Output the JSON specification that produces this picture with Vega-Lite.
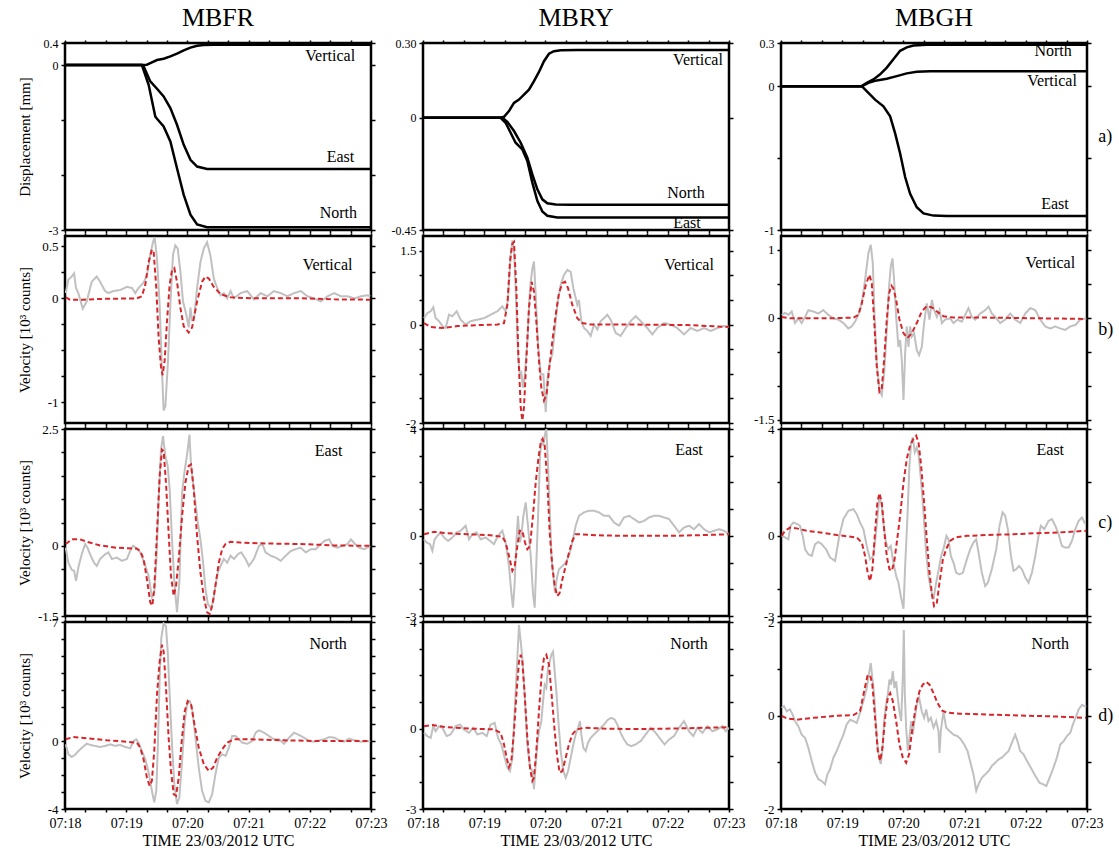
{
"$schema":"https://vega.github.io/schema/vega-lite/v6.json",
"padding":{"top":3,"left":15,"right":5,"bottom":5},
"config":{
 "font":"Liberation Serif",
 "view":{"stroke":"black","strokeWidth":2.5},
 "axis":{"domain":false,"grid":false,"tickColor":"black","tickWidth":1.5,"labelFont":"Liberation Serif","labelFontSize":13,"labelColor":"black","labelPadding":3,"labelOverlap":false,"labelFlush":false,"titleFont":"Liberation Serif","titleFontSize":15,"titleFontWeight":"normal","titleColor":"black"},
 "style":{"guide-label":{"font":"Liberation Serif"},"guide-title":{"font":"Liberation Serif"}},
 "title":{"font":"Liberation Serif","fontSize":26,"fontWeight":"normal","color":"black","frame":"group","anchor":"middle","offset":6},
 "text":{"font":"Liberation Serif","fontSize":16,"color":"black"}
},
"datasets":{
"d_fr":[
{"k":"V","t":0,"v":0},{"k":"V","t":75.4,"v":0},{"k":"V","t":80.3,"v":0.005},{"k":"V","t":85.2,"v":0.048},{"k":"V","t":90.2,"v":0.09},{"k":"V","t":96.7,"v":0.115},{"k":"V","t":103.3,"v":0.157},{"k":"V","t":109.8,"v":0.206},{"k":"V","t":116.4,"v":0.266},{"k":"V","t":123,"v":0.315},{"k":"V","t":129.5,"v":0.351},{"k":"V","t":136,"v":0.364},{"k":"V","t":146,"v":0.37},{"k":"V","t":300,"v":0.37},
{"k":"E","t":0,"v":0},{"k":"E","t":75.4,"v":0},{"k":"E","t":77,"v":-0.02},{"k":"E","t":83.6,"v":-0.298},{"k":"E","t":90.2,"v":-0.432},{"k":"E","t":96.7,"v":-0.571},{"k":"E","t":103.3,"v":-0.784},{"k":"E","t":109.8,"v":-1.087},{"k":"E","t":116.4,"v":-1.452},{"k":"E","t":123,"v":-1.725},{"k":"E","t":129.5,"v":-1.846},{"k":"E","t":139.3,"v":-1.889},{"k":"E","t":300,"v":-1.889},
{"k":"N","t":0,"v":0},{"k":"N","t":75.4,"v":0},{"k":"N","t":82,"v":-0.359},{"k":"N","t":88.5,"v":-0.936},{"k":"N","t":90.2,"v":-0.978},{"k":"N","t":96.7,"v":-1.118},{"k":"N","t":103.3,"v":-1.391},{"k":"N","t":109.8,"v":-1.877},{"k":"N","t":116.4,"v":-2.362},{"k":"N","t":123,"v":-2.72},{"k":"N","t":129.5,"v":-2.9},{"k":"N","t":139.3,"v":-2.95},{"k":"N","t":300,"v":-2.95}
],
"d_ry":[
{"k":"V","t":0,"v":0},{"k":"V","t":76.1,"v":0},{"k":"V","t":79.4,"v":0.004},{"k":"V","t":84.3,"v":0.027},{"k":"V","t":89.2,"v":0.06},{"k":"V","t":94.1,"v":0.073},{"k":"V","t":99,"v":0.093},{"k":"V","t":103.9,"v":0.113},{"k":"V","t":108.8,"v":0.147},{"k":"V","t":113.7,"v":0.184},{"k":"V","t":118.6,"v":0.227},{"k":"V","t":123.5,"v":0.257},{"k":"V","t":128.4,"v":0.267},{"k":"V","t":135,"v":0.271},{"k":"V","t":151.3,"v":0.272},{"k":"V","t":300,"v":0.272},
{"k":"N","t":0,"v":0},{"k":"N","t":77.8,"v":0},{"k":"N","t":82.7,"v":-0.016},{"k":"N","t":89.2,"v":-0.053},{"k":"N","t":95.8,"v":-0.1},{"k":"N","t":102.3,"v":-0.16},{"k":"N","t":107.2,"v":-0.227},{"k":"N","t":112.1,"v":-0.287},{"k":"N","t":117,"v":-0.327},{"k":"N","t":121.9,"v":-0.343},{"k":"N","t":130.1,"v":-0.348},{"k":"N","t":144.8,"v":-0.349},{"k":"N","t":300,"v":-0.349},
{"k":"E","t":0,"v":0},{"k":"E","t":76.1,"v":0},{"k":"E","t":81,"v":-0.02},{"k":"E","t":85.9,"v":-0.06},{"k":"E","t":90.8,"v":-0.1},{"k":"E","t":97.4,"v":-0.127},{"k":"E","t":102.3,"v":-0.173},{"k":"E","t":107.2,"v":-0.26},{"k":"E","t":112.1,"v":-0.333},{"k":"E","t":117,"v":-0.376},{"k":"E","t":121.9,"v":-0.393},{"k":"E","t":131.7,"v":-0.4},{"k":"E","t":300,"v":-0.4}
],
"d_gh":[
{"k":"N","t":0,"v":0},{"k":"N","t":79.2,"v":0},{"k":"N","t":84.1,"v":0.023},{"k":"N","t":90.6,"v":0.047},{"k":"N","t":97.2,"v":0.082},{"k":"N","t":103.7,"v":0.129},{"k":"N","t":110.2,"v":0.187},{"k":"N","t":116.8,"v":0.246},{"k":"N","t":123.3,"v":0.27},{"k":"N","t":129.9,"v":0.283},{"k":"N","t":143,"v":0.288},{"k":"N","t":300,"v":0.288},
{"k":"V","t":0,"v":0},{"k":"V","t":79.2,"v":0},{"k":"V","t":85.7,"v":0.023},{"k":"V","t":93.9,"v":0.04},{"k":"V","t":103.7,"v":0.051},{"k":"V","t":113.5,"v":0.07},{"k":"V","t":123.3,"v":0.089},{"k":"V","t":133.1,"v":0.1},{"k":"V","t":146.2,"v":0.103},{"k":"V","t":300,"v":0.103},
{"k":"E","t":0,"v":0},{"k":"E","t":79.2,"v":0},{"k":"E","t":85.7,"v":-0.047},{"k":"E","t":92.2,"v":-0.094},{"k":"E","t":100.4,"v":-0.14},{"k":"E","t":107,"v":-0.21},{"k":"E","t":111.9,"v":-0.328},{"k":"E","t":116.8,"v":-0.468},{"k":"E","t":121.7,"v":-0.632},{"k":"E","t":126.6,"v":-0.749},{"k":"E","t":133.1,"v":-0.842},{"k":"E","t":139.7,"v":-0.885},{"k":"E","t":149.5,"v":-0.9},{"k":"E","t":162.6,"v":-0.903},{"k":"E","t":300,"v":-0.903}
],
"vz_fr":[
{"k":"o","t":0.7,"v":0.05},{"k":"o","t":3.3,"v":0.18},{"k":"o","t":6.6,"v":0.21},{"k":"o","t":8.9,"v":0.24},{"k":"o","t":10.8,"v":0.1},{"k":"o","t":13.1,"v":0.05},{"k":"o","t":17.4,"v":-0.1},{"k":"o","t":21.3,"v":-0.03},{"k":"o","t":26.2,"v":0.16},{"k":"o","t":31.1,"v":0.21},{"k":"o","t":34.4,"v":0.16},{"k":"o","t":39.3,"v":0.07},{"k":"o","t":42.6,"v":0.05},{"k":"o","t":47.5,"v":0.07},{"k":"o","t":54.1,"v":0.08},{"k":"o","t":60.7,"v":0.11},{"k":"o","t":65.6,"v":0.1},{"k":"o","t":68.9,"v":0.05},{"k":"o","t":72.1,"v":0.1},{"k":"o","t":77,"v":0.15},{"k":"o","t":80.3,"v":0.22},{"k":"o","t":83.6,"v":0.42},{"k":"o","t":86.2,"v":0.54},{"k":"o","t":87.9,"v":0.59},{"k":"o","t":90.2,"v":0.38},{"k":"o","t":92.8,"v":-0.06},{"k":"o","t":95.1,"v":-0.7},{"k":"o","t":96.7,"v":-1.08},{"k":"o","t":98.4,"v":-1.04},{"k":"o","t":101,"v":-0.6},{"k":"o","t":103.3,"v":-0.06},{"k":"o","t":105.9,"v":0.42},{"k":"o","t":108.2,"v":0.51},{"k":"o","t":110.5,"v":0.48},{"k":"o","t":113.1,"v":0.26},{"k":"o","t":115.7,"v":-0.03},{"k":"o","t":119,"v":-0.16},{"k":"o","t":121.3,"v":-0.28},{"k":"o","t":123,"v":-0.09},{"k":"o","t":124.6,"v":-0.22},{"k":"o","t":126.9,"v":-0.16},{"k":"o","t":129.5,"v":0.1},{"k":"o","t":132.8,"v":0.35},{"k":"o","t":136.1,"v":0.48},{"k":"o","t":139.3,"v":0.54},{"k":"o","t":142.6,"v":0.41},{"k":"o","t":145.9,"v":0.19},{"k":"o","t":149.2,"v":0.1},{"k":"o","t":152.5,"v":0.03},{"k":"o","t":155.7,"v":0.05},{"k":"o","t":159,"v":0},{"k":"o","t":162.3,"v":0.07},{"k":"o","t":165.6,"v":0},{"k":"o","t":172.1,"v":0.05},{"k":"o","t":178.7,"v":0.07},{"k":"o","t":185.2,"v":-0.01},{"k":"o","t":191.8,"v":0.05},{"k":"o","t":198.4,"v":0.02},{"k":"o","t":204.9,"v":0.07},{"k":"o","t":211.5,"v":0.05},{"k":"o","t":218,"v":0.02},{"k":"o","t":224.6,"v":0.05},{"k":"o","t":231.1,"v":0.07},{"k":"o","t":237.7,"v":0.02},{"k":"o","t":244.3,"v":0},{"k":"o","t":250.8,"v":-0.03},{"k":"o","t":257.4,"v":0.02},{"k":"o","t":263.9,"v":0.05},{"k":"o","t":270.5,"v":0.02},{"k":"o","t":277,"v":0.02},{"k":"o","t":283.6,"v":0},{"k":"o","t":290.2,"v":0.02},{"k":"o","t":296.7,"v":0.03},{"k":"o","t":299.3,"v":0.02},
{"k":"s","t":0.7,"v":0.01},{"k":"s","t":4.9,"v":-0.013},{"k":"s","t":18,"v":-0.013},{"k":"s","t":34.4,"v":-0.006},{"k":"s","t":50.8,"v":-0.003},{"k":"s","t":70.5,"v":0},{"k":"s","t":75.4,"v":0.02},{"k":"s","t":78.7,"v":0.13},{"k":"s","t":82,"v":0.35},{"k":"s","t":85.2,"v":0.47},{"k":"s","t":86.9,"v":0.45},{"k":"s","t":89.5,"v":0.1},{"k":"s","t":91.8,"v":-0.38},{"k":"s","t":94.1,"v":-0.66},{"k":"s","t":95.7,"v":-0.74},{"k":"s","t":97.7,"v":-0.6},{"k":"s","t":100,"v":-0.22},{"k":"s","t":102.6,"v":0.13},{"k":"s","t":104.9,"v":0.27},{"k":"s","t":107.2,"v":0.29},{"k":"s","t":109.8,"v":0.16},{"k":"s","t":113.1,"v":-0.09},{"k":"s","t":116.4,"v":-0.27},{"k":"s","t":121.3,"v":-0.33},{"k":"s","t":124.6,"v":-0.28},{"k":"s","t":129.5,"v":-0.03},{"k":"s","t":134.4,"v":0.16},{"k":"s","t":137.7,"v":0.21},{"k":"s","t":141,"v":0.19},{"k":"s","t":145.9,"v":0.11},{"k":"s","t":152.5,"v":0.04},{"k":"s","t":162.3,"v":0.01},{"k":"s","t":182,"v":0},{"k":"s","t":231.1,"v":0},{"k":"s","t":263.9,"v":-0.01},{"k":"s","t":299.3,"v":-0.013}
],
"vz_ry":[
{"k":"o","t":1,"v":0.13},{"k":"o","t":4.2,"v":0.23},{"k":"o","t":7.5,"v":0.27},{"k":"o","t":10.1,"v":0.35},{"k":"o","t":12.4,"v":0.13},{"k":"o","t":15.7,"v":0.07},{"k":"o","t":19,"v":-0.03},{"k":"o","t":22.2,"v":-0.07},{"k":"o","t":25.5,"v":0.2},{"k":"o","t":28.8,"v":0.17},{"k":"o","t":33,"v":0.27},{"k":"o","t":36.9,"v":0.1},{"k":"o","t":41.8,"v":0},{"k":"o","t":46.7,"v":0.07},{"k":"o","t":53.3,"v":0.1},{"k":"o","t":59.8,"v":0.13},{"k":"o","t":66.3,"v":0.2},{"k":"o","t":72.9,"v":0.27},{"k":"o","t":77.8,"v":0.37},{"k":"o","t":81,"v":0.27},{"k":"o","t":83.3,"v":0.5},{"k":"o","t":85.9,"v":1.41},{"k":"o","t":87.6,"v":1.71},{"k":"o","t":89.2,"v":1.54},{"k":"o","t":91.5,"v":0.4},{"k":"o","t":93.1,"v":-0.6},{"k":"o","t":94.8,"v":-1.01},{"k":"o","t":96.4,"v":-0.97},{"k":"o","t":98,"v":-1.28},{"k":"o","t":99.7,"v":-1.07},{"k":"o","t":102.3,"v":-0.34},{"k":"o","t":104.9,"v":0.74},{"k":"o","t":107.2,"v":1.14},{"k":"o","t":108.8,"v":1.28},{"k":"o","t":110.5,"v":0.6},{"k":"o","t":112.7,"v":-0.4},{"k":"o","t":115.4,"v":-1.01},{"k":"o","t":118,"v":-1.01},{"k":"o","t":120.3,"v":-1.78},{"k":"o","t":121.9,"v":-1.14},{"k":"o","t":124.5,"v":-0.74},{"k":"o","t":126.8,"v":-0.6},{"k":"o","t":129.1,"v":-0.13},{"k":"o","t":131.7,"v":0.4},{"k":"o","t":135,"v":0.81},{"k":"o","t":138.2,"v":1.01},{"k":"o","t":141.5,"v":1.11},{"k":"o","t":144.8,"v":1.07},{"k":"o","t":147.4,"v":0.74},{"k":"o","t":149.7,"v":0.54},{"k":"o","t":151.3,"v":0.4},{"k":"o","t":152.9,"v":0.5},{"k":"o","t":155.2,"v":0.07},{"k":"o","t":157.8,"v":-0.07},{"k":"o","t":161.1,"v":-0.13},{"k":"o","t":164.4,"v":-0.23},{"k":"o","t":167.6,"v":0},{"k":"o","t":170.9,"v":-0.1},{"k":"o","t":174.2,"v":0.07},{"k":"o","t":177.5,"v":0.13},{"k":"o","t":180.7,"v":0.2},{"k":"o","t":184,"v":0.1},{"k":"o","t":188.9,"v":-0.17},{"k":"o","t":193.8,"v":-0.23},{"k":"o","t":198.7,"v":-0.07},{"k":"o","t":203.6,"v":0.07},{"k":"o","t":208.5,"v":0.17},{"k":"o","t":213.4,"v":0.07},{"k":"o","t":219.9,"v":-0.07},{"k":"o","t":224.8,"v":-0.2},{"k":"o","t":229.7,"v":-0.07},{"k":"o","t":236.3,"v":0.03},{"k":"o","t":242.8,"v":0},{"k":"o","t":249.3,"v":-0.07},{"k":"o","t":255.9,"v":-0.2},{"k":"o","t":262.4,"v":-0.07},{"k":"o","t":269,"v":-0.13},{"k":"o","t":275.5,"v":-0.07},{"k":"o","t":282,"v":-0.13},{"k":"o","t":288.6,"v":-0.07},{"k":"o","t":295.1,"v":-0.03},{"k":"o","t":300,"v":-0.05},
{"k":"s","t":1,"v":0.03},{"k":"s","t":7.5,"v":-0.05},{"k":"s","t":20.6,"v":-0.07},{"k":"s","t":33.7,"v":-0.03},{"k":"s","t":53.3,"v":-0.01},{"k":"s","t":72.9,"v":0},{"k":"s","t":79.4,"v":0.03},{"k":"s","t":82.7,"v":0.4},{"k":"s","t":85.3,"v":1.28},{"k":"s","t":87.6,"v":1.64},{"k":"s","t":89.2,"v":1.68},{"k":"s","t":91.5,"v":0.74},{"k":"s","t":93.5,"v":-0.6},{"k":"s","t":95.8,"v":-1.68},{"k":"s","t":97.4,"v":-1.95},{"k":"s","t":99,"v":-1.68},{"k":"s","t":101.6,"v":-0.6},{"k":"s","t":103.9,"v":0.34},{"k":"s","t":106.5,"v":0.87},{"k":"s","t":108.8,"v":0.67},{"k":"s","t":111.1,"v":0.07},{"k":"s","t":113.7,"v":-0.74},{"k":"s","t":116,"v":-1.28},{"k":"s","t":118.6,"v":-1.54},{"k":"s","t":121.2,"v":-1.41},{"k":"s","t":123.5,"v":-0.94},{"k":"s","t":126.8,"v":-0.34},{"k":"s","t":130.1,"v":0.2},{"k":"s","t":133.3,"v":0.64},{"k":"s","t":136.6,"v":0.84},{"k":"s","t":139.2,"v":0.87},{"k":"s","t":142.2,"v":0.74},{"k":"s","t":146.4,"v":0.4},{"k":"s","t":151.3,"v":0.13},{"k":"s","t":156.2,"v":0.03},{"k":"s","t":164.4,"v":0},{"k":"s","t":210.1,"v":0},{"k":"s","t":259.2,"v":-0.01},{"k":"s","t":300,"v":-0.05}
],
"vz_gh":[
{"k":"o","t":0.7,"v":0.04},{"k":"o","t":3.9,"v":0.07},{"k":"o","t":7.2,"v":0.04},{"k":"o","t":10.5,"v":0.09},{"k":"o","t":13.7,"v":-0.08},{"k":"o","t":17,"v":-0.01},{"k":"o","t":20.3,"v":-0.08},{"k":"o","t":23.6,"v":0.01},{"k":"o","t":26.8,"v":0.11},{"k":"o","t":31.7,"v":0.09},{"k":"o","t":36.6,"v":0.06},{"k":"o","t":41.5,"v":0.11},{"k":"o","t":46.4,"v":0.04},{"k":"o","t":51.4,"v":-0.01},{"k":"o","t":56.3,"v":-0.03},{"k":"o","t":61.2,"v":-0.08},{"k":"o","t":66.1,"v":-0.16},{"k":"o","t":69.3,"v":-0.13},{"k":"o","t":72.6,"v":-0.06},{"k":"o","t":75.9,"v":0.04},{"k":"o","t":79.2,"v":0.21},{"k":"o","t":82.4,"v":0.55},{"k":"o","t":85.7,"v":0.95},{"k":"o","t":88,"v":1.07},{"k":"o","t":90,"v":0.8},{"k":"o","t":91.6,"v":0.06},{"k":"o","t":93.9,"v":-0.67},{"k":"o","t":96.5,"v":-1.06},{"k":"o","t":98.8,"v":-1.14},{"k":"o","t":101.1,"v":-0.82},{"k":"o","t":103.7,"v":-0.18},{"k":"o","t":106,"v":0.46},{"k":"o","t":107.6,"v":0.75},{"k":"o","t":109.3,"v":0.87},{"k":"o","t":110.9,"v":0.55},{"k":"o","t":112.9,"v":0.01},{"k":"o","t":115.1,"v":-0.43},{"k":"o","t":116.8,"v":-0.33},{"k":"o","t":118.4,"v":-0.62},{"k":"o","t":120.1,"v":-1.21},{"k":"o","t":121.7,"v":-0.52},{"k":"o","t":123.3,"v":-0.13},{"k":"o","t":125,"v":-0.43},{"k":"o","t":126.6,"v":-0.13},{"k":"o","t":128.2,"v":-0.28},{"k":"o","t":130.5,"v":-0.23},{"k":"o","t":133.1,"v":-0.48},{"k":"o","t":135.4,"v":-0.55},{"k":"o","t":138,"v":-0.43},{"k":"o","t":140.3,"v":-0.08},{"k":"o","t":142.9,"v":0.21},{"k":"o","t":145.6,"v":-0.03},{"k":"o","t":147.9,"v":0.26},{"k":"o","t":150.1,"v":0.11},{"k":"o","t":152.8,"v":0.01},{"k":"o","t":155.4,"v":0.11},{"k":"o","t":157.7,"v":-0.08},{"k":"o","t":160.9,"v":-0.03},{"k":"o","t":165.8,"v":-0.01},{"k":"o","t":169.1,"v":-0.08},{"k":"o","t":173,"v":-0.03},{"k":"o","t":177.3,"v":-0.06},{"k":"o","t":180.6,"v":0.04},{"k":"o","t":183.8,"v":0.14},{"k":"o","t":187.1,"v":0.01},{"k":"o","t":190.4,"v":-0.03},{"k":"o","t":195.3,"v":0.06},{"k":"o","t":200.2,"v":0.11},{"k":"o","t":203.5,"v":0.16},{"k":"o","t":206.7,"v":0.06},{"k":"o","t":210,"v":0.01},{"k":"o","t":214.9,"v":-0.08},{"k":"o","t":219.8,"v":-0.03},{"k":"o","t":224.7,"v":0.06},{"k":"o","t":229.6,"v":-0.03},{"k":"o","t":234.5,"v":-0.08},{"k":"o","t":239.5,"v":0.06},{"k":"o","t":244.4,"v":0.14},{"k":"o","t":249.3,"v":0.11},{"k":"o","t":254.2,"v":-0.03},{"k":"o","t":259.1,"v":-0.13},{"k":"o","t":264,"v":-0.16},{"k":"o","t":268.9,"v":-0.13},{"k":"o","t":273.8,"v":-0.16},{"k":"o","t":278.7,"v":-0.18},{"k":"o","t":283.6,"v":-0.13},{"k":"o","t":288.5,"v":-0.11},{"k":"o","t":293.4,"v":-0.03},{"k":"o","t":299.3,"v":-0.01},
{"k":"s","t":0.7,"v":0.01},{"k":"s","t":8.8,"v":-0.01},{"k":"s","t":25.2,"v":-0.01},{"k":"s","t":48.1,"v":-0.01},{"k":"s","t":71,"v":0},{"k":"s","t":75.9,"v":0.04},{"k":"s","t":79.2,"v":0.21},{"k":"s","t":83.1,"v":0.48},{"k":"s","t":86.7,"v":0.63},{"k":"s","t":89,"v":0.5},{"k":"s","t":91.3,"v":-0.03},{"k":"s","t":93.9,"v":-0.72},{"k":"s","t":96.5,"v":-1.09},{"k":"s","t":98.8,"v":-1.04},{"k":"s","t":101.1,"v":-0.62},{"k":"s","t":103.7,"v":-0.03},{"k":"s","t":106,"v":0.36},{"k":"s","t":108.3,"v":0.47},{"k":"s","t":110.2,"v":0.43},{"k":"s","t":112.9,"v":0.26},{"k":"s","t":116.1,"v":-0.03},{"k":"s","t":120.1,"v":-0.23},{"k":"s","t":124,"v":-0.3},{"k":"s","t":128.2,"v":-0.23},{"k":"s","t":133.1,"v":-0.08},{"k":"s","t":138,"v":0.09},{"k":"s","t":142.9,"v":0.17},{"k":"s","t":147.9,"v":0.15},{"k":"s","t":152.8,"v":0.09},{"k":"s","t":159.3,"v":0.02},{"k":"s","t":169.1,"v":0},{"k":"s","t":201.8,"v":0},{"k":"s","t":250.9,"v":-0.01},{"k":"s","t":299.3,"v":-0.02}
],
"ve_fr":[
{"k":"o","t":0.7,"v":-0.04},{"k":"o","t":3.3,"v":-0.36},{"k":"o","t":6.6,"v":-0.51},{"k":"o","t":8.9,"v":-0.53},{"k":"o","t":10.8,"v":-0.75},{"k":"o","t":13.1,"v":-0.46},{"k":"o","t":16.4,"v":-0.18},{"k":"o","t":19.7,"v":0.04},{"k":"o","t":22,"v":-0.04},{"k":"o","t":25.2,"v":-0.21},{"k":"o","t":28.5,"v":-0.36},{"k":"o","t":31.1,"v":-0.43},{"k":"o","t":34.4,"v":-0.28},{"k":"o","t":39.3,"v":-0.18},{"k":"o","t":42.6,"v":-0.14},{"k":"o","t":45.9,"v":-0.28},{"k":"o","t":50.8,"v":-0.25},{"k":"o","t":55.7,"v":-0.32},{"k":"o","t":60.7,"v":-0.28},{"k":"o","t":63.9,"v":-0.11},{"k":"o","t":66.6,"v":0},{"k":"o","t":69.8,"v":-0.04},{"k":"o","t":73.8,"v":-0.14},{"k":"o","t":77.7,"v":-0.36},{"k":"o","t":82,"v":-0.64},{"k":"o","t":85.2,"v":-1.1},{"k":"o","t":87.5,"v":-1},{"k":"o","t":89.5,"v":-0.36},{"k":"o","t":91.8,"v":1},{"k":"o","t":94.1,"v":2.06},{"k":"o","t":96.1,"v":2.35},{"k":"o","t":98.4,"v":1.92},{"k":"o","t":100.7,"v":1.71},{"k":"o","t":102.6,"v":1.21},{"k":"o","t":104.9,"v":0.14},{"k":"o","t":107.2,"v":-0.78},{"k":"o","t":109.8,"v":-1.42},{"k":"o","t":112.1,"v":-0.78},{"k":"o","t":114.8,"v":1.14},{"k":"o","t":117,"v":1.56},{"k":"o","t":119,"v":1.85},{"k":"o","t":120.3,"v":2.06},{"k":"o","t":122,"v":2.38},{"k":"o","t":123.6,"v":1.71},{"k":"o","t":125.6,"v":1.35},{"k":"o","t":127.9,"v":0.92},{"k":"o","t":130.2,"v":0.5},{"k":"o","t":132.8,"v":0.14},{"k":"o","t":135.4,"v":-0.36},{"k":"o","t":137.7,"v":-0.92},{"k":"o","t":140,"v":-1.24},{"k":"o","t":142.6,"v":-1.32},{"k":"o","t":145.2,"v":-1.21},{"k":"o","t":147.5,"v":-0.85},{"k":"o","t":149.8,"v":-0.57},{"k":"o","t":152.5,"v":-0.43},{"k":"o","t":155.7,"v":-0.28},{"k":"o","t":159,"v":-0.36},{"k":"o","t":162.3,"v":-0.21},{"k":"o","t":165.6,"v":-0.28},{"k":"o","t":169.5,"v":-0.18},{"k":"o","t":172.8,"v":-0.14},{"k":"o","t":177,"v":-0.28},{"k":"o","t":180.3,"v":-0.43},{"k":"o","t":185.2,"v":-0.28},{"k":"o","t":190.2,"v":0},{"k":"o","t":193.4,"v":0.04},{"k":"o","t":196.7,"v":-0.14},{"k":"o","t":201.6,"v":-0.21},{"k":"o","t":206.6,"v":-0.25},{"k":"o","t":211.5,"v":-0.32},{"k":"o","t":216.4,"v":-0.21},{"k":"o","t":221.3,"v":-0.11},{"k":"o","t":226.2,"v":-0.07},{"k":"o","t":231.1,"v":-0.04},{"k":"o","t":236.1,"v":-0.14},{"k":"o","t":241,"v":-0.07},{"k":"o","t":245.9,"v":-0.07},{"k":"o","t":250.8,"v":0.04},{"k":"o","t":254.8,"v":0.11},{"k":"o","t":259,"v":0.14},{"k":"o","t":262.3,"v":0},{"k":"o","t":267.2,"v":-0.04},{"k":"o","t":272.1,"v":0},{"k":"o","t":277,"v":0.04},{"k":"o","t":280.3,"v":0.14},{"k":"o","t":284.3,"v":0.04},{"k":"o","t":288.5,"v":-0.04},{"k":"o","t":293.4,"v":-0.07},{"k":"o","t":299.3,"v":-0.01},
{"k":"s","t":0.7,"v":0.04},{"k":"s","t":6.6,"v":0.14},{"k":"s","t":14.8,"v":0.14},{"k":"s","t":21.3,"v":0.09},{"k":"s","t":34.4,"v":0.01},{"k":"s","t":50.8,"v":-0.04},{"k":"s","t":70.5,"v":-0.06},{"k":"s","t":73.8,"v":-0.11},{"k":"s","t":77,"v":-0.28},{"k":"s","t":80.3,"v":-0.71},{"k":"s","t":83.6,"v":-1.21},{"k":"s","t":85.6,"v":-1.28},{"k":"s","t":87.5,"v":-0.92},{"k":"s","t":90.2,"v":0.28},{"k":"s","t":92.8,"v":1.49},{"k":"s","t":95.1,"v":2.06},{"k":"s","t":96.7,"v":2.03},{"k":"s","t":99,"v":1.35},{"k":"s","t":101.6,"v":0.28},{"k":"s","t":103.9,"v":-0.64},{"k":"s","t":106.6,"v":-1.07},{"k":"s","t":108.9,"v":-0.85},{"k":"s","t":111.5,"v":-0.28},{"k":"s","t":114.8,"v":0.64},{"k":"s","t":118,"v":1.35},{"k":"s","t":121.3,"v":1.71},{"k":"s","t":123.6,"v":1.74},{"k":"s","t":126.2,"v":1.21},{"k":"s","t":129.5,"v":0.21},{"k":"s","t":132.8,"v":-0.57},{"k":"s","t":136.1,"v":-1.1},{"k":"s","t":139.3,"v":-1.42},{"k":"s","t":142,"v":-1.46},{"k":"s","t":144.3,"v":-1.28},{"k":"s","t":147.5,"v":-0.85},{"k":"s","t":150.8,"v":-0.36},{"k":"s","t":154.1,"v":-0.07},{"k":"s","t":157.4,"v":0.04},{"k":"s","t":162.3,"v":0.09},{"k":"s","t":172.1,"v":0.07},{"k":"s","t":198.4,"v":0.05},{"k":"s","t":231.1,"v":0.04},{"k":"s","t":263.9,"v":0.01},{"k":"s","t":299.3,"v":0}
],
"ve_ry":[
{"k":"o","t":1,"v":-0.13},{"k":"o","t":3.6,"v":-0.25},{"k":"o","t":6.9,"v":-0.31},{"k":"o","t":9.2,"v":-0.56},{"k":"o","t":11.4,"v":-0.13},{"k":"o","t":14.1,"v":0},{"k":"o","t":17.3,"v":0.13},{"k":"o","t":20.6,"v":-0.06},{"k":"o","t":24.5,"v":-0.19},{"k":"o","t":28.8,"v":-0.06},{"k":"o","t":33,"v":0.13},{"k":"o","t":36.9,"v":0.19},{"k":"o","t":41.8,"v":0.38},{"k":"o","t":45.1,"v":-0.13},{"k":"o","t":48.4,"v":0.06},{"k":"o","t":52.6,"v":0.13},{"k":"o","t":56.5,"v":-0.13},{"k":"o","t":61.4,"v":-0.06},{"k":"o","t":65.7,"v":-0.19},{"k":"o","t":69.6,"v":-0.31},{"k":"o","t":73.5,"v":0},{"k":"o","t":77.8,"v":0.19},{"k":"o","t":81,"v":-0.25},{"k":"o","t":84.3,"v":-1.13},{"k":"o","t":86.6,"v":-2.13},{"k":"o","t":88.2,"v":-2.69},{"k":"o","t":89.9,"v":-1.75},{"k":"o","t":91.5,"v":-0.25},{"k":"o","t":93.1,"v":0.75},{"k":"o","t":94.8,"v":-0.25},{"k":"o","t":96.4,"v":0},{"k":"o","t":98.4,"v":0.75},{"k":"o","t":100.7,"v":1.25},{"k":"o","t":102.9,"v":0.38},{"k":"o","t":105.6,"v":-0.75},{"k":"o","t":107.8,"v":-2.13},{"k":"o","t":109.5,"v":-2.69},{"k":"o","t":111.4,"v":-0.75},{"k":"o","t":113.4,"v":1.38},{"k":"o","t":114.7,"v":3},{"k":"o","t":116.3,"v":3.63},{"k":"o","t":118,"v":3.38},{"k":"o","t":119.3,"v":3.75},{"k":"o","t":120.9,"v":4},{"k":"o","t":122.5,"v":2.75},{"k":"o","t":124.5,"v":0.75},{"k":"o","t":126.1,"v":-0.88},{"k":"o","t":127.8,"v":-1.5},{"k":"o","t":129.4,"v":-2.13},{"k":"o","t":131,"v":-1.63},{"k":"o","t":133.3,"v":-1.25},{"k":"o","t":136.6,"v":-1.13},{"k":"o","t":139.9,"v":-1},{"k":"o","t":143.1,"v":-0.75},{"k":"o","t":146.4,"v":-0.25},{"k":"o","t":149.7,"v":0.38},{"k":"o","t":152.9,"v":0.75},{"k":"o","t":157.8,"v":0.88},{"k":"o","t":162.7,"v":0.94},{"k":"o","t":167.6,"v":0.94},{"k":"o","t":172.5,"v":0.88},{"k":"o","t":177.5,"v":0.75},{"k":"o","t":182.4,"v":0.75},{"k":"o","t":187.3,"v":0.5},{"k":"o","t":192.2,"v":0.38},{"k":"o","t":197.1,"v":0.69},{"k":"o","t":202,"v":0.75},{"k":"o","t":206.9,"v":0.63},{"k":"o","t":211.8,"v":0.5},{"k":"o","t":216.7,"v":0.56},{"k":"o","t":221.6,"v":0.69},{"k":"o","t":226.5,"v":0.75},{"k":"o","t":231.4,"v":0.75},{"k":"o","t":236.3,"v":0.69},{"k":"o","t":241.2,"v":0.63},{"k":"o","t":246.1,"v":0.38},{"k":"o","t":251,"v":0.13},{"k":"o","t":255.9,"v":0.31},{"k":"o","t":260.8,"v":0.38},{"k":"o","t":265.7,"v":0.25},{"k":"o","t":270.6,"v":0.44},{"k":"o","t":275.5,"v":0.25},{"k":"o","t":280.4,"v":0.13},{"k":"o","t":285.3,"v":0.19},{"k":"o","t":290.2,"v":0.25},{"k":"o","t":295.1,"v":0.19},{"k":"o","t":300,"v":0.06},
{"k":"s","t":1,"v":0.06},{"k":"s","t":10.8,"v":0.15},{"k":"s","t":23.9,"v":0.1},{"k":"s","t":43.5,"v":0.06},{"k":"s","t":63.1,"v":0.03},{"k":"s","t":77.8,"v":-0.03},{"k":"s","t":81,"v":-0.25},{"k":"s","t":84.3,"v":-0.75},{"k":"s","t":87.6,"v":-1.31},{"k":"s","t":89.9,"v":-1.13},{"k":"s","t":92.5,"v":-0.38},{"k":"s","t":94.8,"v":0.19},{"k":"s","t":97.4,"v":0.19},{"k":"s","t":100,"v":-0.25},{"k":"s","t":102.3,"v":-0.5},{"k":"s","t":104.9,"v":-0.38},{"k":"s","t":107.8,"v":0.75},{"k":"s","t":110.5,"v":2},{"k":"s","t":113.1,"v":2.88},{"k":"s","t":115.4,"v":3.5},{"k":"s","t":117.3,"v":3.63},{"k":"s","t":119.3,"v":3.38},{"k":"s","t":121.9,"v":2},{"k":"s","t":124.2,"v":0.13},{"k":"s","t":126.8,"v":-1.13},{"k":"s","t":129.1,"v":-1.88},{"k":"s","t":131.7,"v":-2.25},{"k":"s","t":134,"v":-2.13},{"k":"s","t":136.6,"v":-1.63},{"k":"s","t":139.9,"v":-1.13},{"k":"s","t":143.1,"v":-0.63},{"k":"s","t":146.4,"v":-0.19},{"k":"s","t":149.7,"v":0.06},{"k":"s","t":154.6,"v":0.06},{"k":"s","t":164.4,"v":0.03},{"k":"s","t":193.8,"v":0},{"k":"s","t":242.8,"v":0},{"k":"s","t":275.5,"v":0.03},{"k":"s","t":300,"v":0.06}
],
"ve_gh":[
{"k":"o","t":0.7,"v":0},{"k":"o","t":3.9,"v":-0.06},{"k":"o","t":7.2,"v":-0.13},{"k":"o","t":9.5,"v":0.38},{"k":"o","t":12.1,"v":0.5},{"k":"o","t":16,"v":0.44},{"k":"o","t":18.6,"v":0.38},{"k":"o","t":21.3,"v":0},{"k":"o","t":23.6,"v":-0.5},{"k":"o","t":26.8,"v":-0.69},{"k":"o","t":30.1,"v":-0.75},{"k":"o","t":33.4,"v":-0.31},{"k":"o","t":36.6,"v":-0.23},{"k":"o","t":39.9,"v":-0.31},{"k":"o","t":44.2,"v":-0.5},{"k":"o","t":48.1,"v":-0.81},{"k":"o","t":53,"v":-0.94},{"k":"o","t":57.2,"v":0},{"k":"o","t":61.2,"v":0.63},{"k":"o","t":66.1,"v":0.94},{"k":"o","t":71,"v":1},{"k":"o","t":74.3,"v":0.81},{"k":"o","t":77.5,"v":0.5},{"k":"o","t":80.8,"v":0.25},{"k":"o","t":84.1,"v":-0.38},{"k":"o","t":87.3,"v":-0.88},{"k":"o","t":90.6,"v":-0.75},{"k":"o","t":93.2,"v":0.13},{"k":"o","t":96.5,"v":1.5},{"k":"o","t":98.8,"v":1.13},{"k":"o","t":101.1,"v":0.25},{"k":"o","t":103,"v":-0.25},{"k":"o","t":105.3,"v":-0.5},{"k":"o","t":107.6,"v":-0.38},{"k":"o","t":110.2,"v":-1},{"k":"o","t":112.9,"v":-1.5},{"k":"o","t":115.1,"v":-1.75},{"k":"o","t":117.4,"v":-2.25},{"k":"o","t":120.1,"v":-2.73},{"k":"o","t":121.7,"v":-1.13},{"k":"o","t":124,"v":0.75},{"k":"o","t":125.9,"v":2.63},{"k":"o","t":127.6,"v":3.5},{"k":"o","t":129.2,"v":3.69},{"k":"o","t":131.2,"v":3.13},{"k":"o","t":133.1,"v":3.31},{"k":"o","t":135.1,"v":3},{"k":"o","t":137.4,"v":2},{"k":"o","t":139.7,"v":0.88},{"k":"o","t":142,"v":-0.5},{"k":"o","t":144.6,"v":-1.5},{"k":"o","t":146.9,"v":-2},{"k":"o","t":149.5,"v":-2.38},{"k":"o","t":152.1,"v":-1.75},{"k":"o","t":154.7,"v":-1.25},{"k":"o","t":157,"v":-0.75},{"k":"o","t":159.6,"v":-0.44},{"k":"o","t":162.2,"v":0},{"k":"o","t":164.2,"v":-0.13},{"k":"o","t":166.5,"v":-0.75},{"k":"o","t":169.1,"v":-1},{"k":"o","t":171.7,"v":-1.38},{"k":"o","t":175,"v":-1.44},{"k":"o","t":178.3,"v":-1.38},{"k":"o","t":182.2,"v":-0.88},{"k":"o","t":185.5,"v":-0.5},{"k":"o","t":188.7,"v":-0.25},{"k":"o","t":191.4,"v":-0.13},{"k":"o","t":193.7,"v":-0.63},{"k":"o","t":196.9,"v":-1.38},{"k":"o","t":200.2,"v":-1.88},{"k":"o","t":202.8,"v":-1.75},{"k":"o","t":206.7,"v":-1.25},{"k":"o","t":211,"v":-0.5},{"k":"o","t":214.3,"v":0.38},{"k":"o","t":217.2,"v":0.88},{"k":"o","t":219.8,"v":0.75},{"k":"o","t":222.4,"v":0.25},{"k":"o","t":225.4,"v":-0.75},{"k":"o","t":228,"v":-1.31},{"k":"o","t":230.6,"v":-1.25},{"k":"o","t":233.2,"v":-1.13},{"k":"o","t":236.2,"v":-1.25},{"k":"o","t":239.5,"v":-1.56},{"k":"o","t":242.7,"v":-1.75},{"k":"o","t":246,"v":-1.38},{"k":"o","t":249.3,"v":-0.75},{"k":"o","t":252.5,"v":0},{"k":"o","t":254.8,"v":0.38},{"k":"o","t":258.1,"v":0.25},{"k":"o","t":262.3,"v":0.56},{"k":"o","t":265.6,"v":0.63},{"k":"o","t":268.9,"v":0.38},{"k":"o","t":272.2,"v":0.06},{"k":"o","t":275.4,"v":-0.38},{"k":"o","t":278.7,"v":-0.44},{"k":"o","t":282,"v":-0.44},{"k":"o","t":285.2,"v":-0.19},{"k":"o","t":288.5,"v":0.25},{"k":"o","t":291.8,"v":0.56},{"k":"o","t":295.1,"v":0.69},{"k":"o","t":298.3,"v":0.44},
{"k":"s","t":0.7,"v":0},{"k":"s","t":3.9,"v":0.19},{"k":"s","t":8.8,"v":0.31},{"k":"s","t":15.4,"v":0.28},{"k":"s","t":25.2,"v":0.19},{"k":"s","t":38.3,"v":0.13},{"k":"s","t":54.6,"v":0.03},{"k":"s","t":74.3,"v":-0.06},{"k":"s","t":79.2,"v":-0.25},{"k":"s","t":82.4,"v":-0.75},{"k":"s","t":85,"v":-1.38},{"k":"s","t":87.3,"v":-1.69},{"k":"s","t":89.6,"v":-1.25},{"k":"s","t":92.2,"v":0.13},{"k":"s","t":94.5,"v":1.25},{"k":"s","t":96.5,"v":1.6},{"k":"s","t":98.8,"v":1.25},{"k":"s","t":101.4,"v":0.13},{"k":"s","t":103.7,"v":-0.75},{"k":"s","t":106.3,"v":-1.25},{"k":"s","t":108.6,"v":-1.31},{"k":"s","t":110.9,"v":-1},{"k":"s","t":113.5,"v":-0.25},{"k":"s","t":116.8,"v":0.75},{"k":"s","t":120.1,"v":2},{"k":"s","t":123.3,"v":2.88},{"k":"s","t":126.6,"v":3.38},{"k":"s","t":129.9,"v":3.63},{"k":"s","t":132.5,"v":3.75},{"k":"s","t":134.8,"v":3.5},{"k":"s","t":137.4,"v":2.63},{"k":"s","t":140.3,"v":1.25},{"k":"s","t":142.9,"v":-0.13},{"k":"s","t":145.6,"v":-1.38},{"k":"s","t":148.2,"v":-2.25},{"k":"s","t":150.1,"v":-2.63},{"k":"s","t":152.8,"v":-2.5},{"k":"s","t":155.4,"v":-1.75},{"k":"s","t":158.7,"v":-0.88},{"k":"s","t":161.9,"v":-0.5},{"k":"s","t":165.8,"v":-0.19},{"k":"s","t":170.8,"v":-0.06},{"k":"s","t":182.2,"v":0},{"k":"s","t":201.8,"v":0.03},{"k":"s","t":228,"v":0.06},{"k":"s","t":250.9,"v":0.1},{"k":"s","t":273.8,"v":0.13},{"k":"s","t":299.3,"v":0.19}
],
"vn_fr":[
{"k":"o","t":0.7,"v":-0.2},{"k":"o","t":3.3,"v":-0.78},{"k":"o","t":6.6,"v":-0.94},{"k":"o","t":9.8,"v":-0.82},{"k":"o","t":13.1,"v":-0.59},{"k":"o","t":17.4,"v":-0.35},{"k":"o","t":21.3,"v":-0.16},{"k":"o","t":25.2,"v":-0.23},{"k":"o","t":29.5,"v":-0.29},{"k":"o","t":34.4,"v":-0.35},{"k":"o","t":39.3,"v":-0.29},{"k":"o","t":44.3,"v":-0.2},{"k":"o","t":49.2,"v":-0.29},{"k":"o","t":54.1,"v":-0.23},{"k":"o","t":59,"v":-0.35},{"k":"o","t":63.9,"v":-0.43},{"k":"o","t":67.2,"v":0},{"k":"o","t":69.8,"v":0.1},{"k":"o","t":72.1,"v":-0.1},{"k":"o","t":75.4,"v":-0.59},{"k":"o","t":78.7,"v":-1.07},{"k":"o","t":82,"v":-1.86},{"k":"o","t":85.2,"v":-2.93},{"k":"o","t":87.5,"v":-3.61},{"k":"o","t":89.5,"v":-2.93},{"k":"o","t":91.1,"v":-0.2},{"k":"o","t":92.8,"v":3.71},{"k":"o","t":94.4,"v":6.05},{"k":"o","t":96.7,"v":6.93},{"k":"o","t":99,"v":6.74},{"k":"o","t":100.7,"v":5.27},{"k":"o","t":102.6,"v":2.73},{"k":"o","t":104.9,"v":-0.2},{"k":"o","t":107.2,"v":-2.54},{"k":"o","t":109.8,"v":-3.71},{"k":"o","t":112.1,"v":-3.32},{"k":"o","t":114.8,"v":-1.17},{"k":"o","t":117.4,"v":1.17},{"k":"o","t":119.7,"v":2.15},{"k":"o","t":122.3,"v":2.34},{"k":"o","t":124.6,"v":1.95},{"k":"o","t":127.9,"v":0.2},{"k":"o","t":131.1,"v":-1.56},{"k":"o","t":134.4,"v":-2.93},{"k":"o","t":137.7,"v":-3.52},{"k":"o","t":141,"v":-3.61},{"k":"o","t":144.3,"v":-3.13},{"k":"o","t":147.5,"v":-1.95},{"k":"o","t":150.8,"v":-0.98},{"k":"o","t":154.1,"v":-0.78},{"k":"o","t":157.4,"v":-0.88},{"k":"o","t":160.7,"v":-0.39},{"k":"o","t":163.9,"v":0.29},{"k":"o","t":167.2,"v":0.29},{"k":"o","t":170.5,"v":0.1},{"k":"o","t":173.8,"v":-0.1},{"k":"o","t":178.7,"v":-0.16},{"k":"o","t":183.6,"v":0},{"k":"o","t":186.9,"v":0.49},{"k":"o","t":190.2,"v":0.63},{"k":"o","t":195.1,"v":0.49},{"k":"o","t":200,"v":0.29},{"k":"o","t":204.9,"v":0.1},{"k":"o","t":209.8,"v":0.1},{"k":"o","t":214.8,"v":-0.16},{"k":"o","t":219.7,"v":0.2},{"k":"o","t":224.6,"v":0.49},{"k":"o","t":229.5,"v":0.35},{"k":"o","t":234.4,"v":0.2},{"k":"o","t":239.3,"v":0},{"k":"o","t":244.3,"v":-0.04},{"k":"o","t":249.2,"v":0.04},{"k":"o","t":254.1,"v":0.1},{"k":"o","t":259,"v":0.23},{"k":"o","t":263.9,"v":0.2},{"k":"o","t":268.9,"v":0.04},{"k":"o","t":273.8,"v":-0.04},{"k":"o","t":278.7,"v":0.14},{"k":"o","t":283.6,"v":0.04},{"k":"o","t":290.2,"v":-0.04},{"k":"o","t":299.3,"v":0},
{"k":"s","t":0.7,"v":0.1},{"k":"s","t":8.2,"v":0.23},{"k":"s","t":21.3,"v":0.16},{"k":"s","t":41,"v":0.04},{"k":"s","t":60.7,"v":-0.04},{"k":"s","t":70.5,"v":-0.1},{"k":"s","t":73.8,"v":-0.39},{"k":"s","t":77,"v":-1.07},{"k":"s","t":80.3,"v":-2.15},{"k":"s","t":83,"v":-2.64},{"k":"s","t":85.2,"v":-2.34},{"k":"s","t":87.5,"v":-0.59},{"k":"s","t":90.2,"v":2.73},{"k":"s","t":92.8,"v":4.69},{"k":"s","t":95.1,"v":5.66},{"k":"s","t":96.7,"v":5.27},{"k":"s","t":99,"v":3.13},{"k":"s","t":101.6,"v":0.2},{"k":"s","t":103.9,"v":-1.76},{"k":"s","t":106.6,"v":-3.13},{"k":"s","t":108.9,"v":-3.22},{"k":"s","t":111.5,"v":-2.15},{"k":"s","t":114.1,"v":-0.2},{"k":"s","t":117.4,"v":1.76},{"k":"s","t":120.3,"v":2.34},{"k":"s","t":123.6,"v":2.15},{"k":"s","t":126.9,"v":0.98},{"k":"s","t":131.1,"v":-0.39},{"k":"s","t":136.1,"v":-1.37},{"k":"s","t":141,"v":-1.76},{"k":"s","t":145.2,"v":-1.56},{"k":"s","t":149.2,"v":-0.98},{"k":"s","t":154.1,"v":-0.49},{"k":"s","t":159,"v":-0.1},{"k":"s","t":165.6,"v":0.1},{"k":"s","t":182,"v":0.1},{"k":"s","t":214.8,"v":0.04},{"k":"s","t":247.5,"v":0},{"k":"s","t":299.3,"v":0}
],
"vn_ry":[
{"k":"o","t":1,"v":-0.15},{"k":"o","t":4.2,"v":-0.27},{"k":"o","t":7.5,"v":-0.34},{"k":"o","t":10.1,"v":0.1},{"k":"o","t":12.4,"v":-0.09},{"k":"o","t":15.7,"v":0.1},{"k":"o","t":19,"v":0.04},{"k":"o","t":23.2,"v":-0.27},{"k":"o","t":27.1,"v":-0.21},{"k":"o","t":32,"v":0.1},{"k":"o","t":36.3,"v":0.16},{"k":"o","t":40.2,"v":-0.02},{"k":"o","t":45.1,"v":-0.15},{"k":"o","t":49.3,"v":0.04},{"k":"o","t":53.3,"v":-0.21},{"k":"o","t":58.2,"v":-0.15},{"k":"o","t":62.4,"v":-0.27},{"k":"o","t":66.3,"v":0.16},{"k":"o","t":70.3,"v":0.22},{"k":"o","t":73.5,"v":-0.34},{"k":"o","t":76.8,"v":-0.58},{"k":"o","t":80.1,"v":-1.08},{"k":"o","t":82.7,"v":-1.45},{"k":"o","t":85.3,"v":-1.58},{"k":"o","t":87.6,"v":-1.08},{"k":"o","t":89.9,"v":0.66},{"k":"o","t":92.5,"v":2.65},{"k":"o","t":94.1,"v":3.89},{"k":"o","t":95.8,"v":3.27},{"k":"o","t":97.4,"v":2.65},{"k":"o","t":99.7,"v":1.28},{"k":"o","t":102.3,"v":-0.58},{"k":"o","t":104.9,"v":-1.45},{"k":"o","t":107.2,"v":-1.58},{"k":"o","t":108.8,"v":-2.26},{"k":"o","t":110.5,"v":-1.33},{"k":"o","t":112.1,"v":-0.58},{"k":"o","t":113.7,"v":-0.09},{"k":"o","t":116,"v":0.29},{"k":"o","t":118,"v":1.16},{"k":"o","t":119.3,"v":1.65},{"k":"o","t":120.9,"v":1.53},{"k":"o","t":122.5,"v":2.27},{"k":"o","t":124.2,"v":2.52},{"k":"o","t":125.8,"v":2.77},{"k":"o","t":127.5,"v":2.89},{"k":"o","t":129.1,"v":2.15},{"k":"o","t":131,"v":1.28},{"k":"o","t":132.7,"v":0.29},{"k":"o","t":135,"v":-0.83},{"k":"o","t":137.6,"v":-1.58},{"k":"o","t":139.9,"v":-1.83},{"k":"o","t":142.2,"v":-1.58},{"k":"o","t":144.8,"v":-1.08},{"k":"o","t":147.4,"v":-0.58},{"k":"o","t":149.7,"v":-0.21},{"k":"o","t":152,"v":0.04},{"k":"o","t":153.9,"v":0.29},{"k":"o","t":155.2,"v":-0.21},{"k":"o","t":157.2,"v":-0.71},{"k":"o","t":159.5,"v":-0.83},{"k":"o","t":161.8,"v":-0.52},{"k":"o","t":164.4,"v":-0.34},{"k":"o","t":167.6,"v":-0.21},{"k":"o","t":170.9,"v":-0.09},{"k":"o","t":174.2,"v":0.04},{"k":"o","t":177.5,"v":0.16},{"k":"o","t":181.4,"v":0.35},{"k":"o","t":184.6,"v":0.41},{"k":"o","t":187.9,"v":0.35},{"k":"o","t":190.5,"v":0.16},{"k":"o","t":193.8,"v":-0.15},{"k":"o","t":197.1,"v":-0.4},{"k":"o","t":200.3,"v":-0.58},{"k":"o","t":204.2,"v":-0.65},{"k":"o","t":208.5,"v":-0.58},{"k":"o","t":213.4,"v":-0.46},{"k":"o","t":218.3,"v":-0.21},{"k":"o","t":223.2,"v":0.04},{"k":"o","t":228.1,"v":-0.15},{"k":"o","t":233,"v":-0.4},{"k":"o","t":236.9,"v":-0.58},{"k":"o","t":241.2,"v":-0.4},{"k":"o","t":246.1,"v":-0.27},{"k":"o","t":251,"v":0.04},{"k":"o","t":255.9,"v":0.29},{"k":"o","t":260.8,"v":-0.09},{"k":"o","t":265,"v":-0.27},{"k":"o","t":269,"v":0.04},{"k":"o","t":273.9,"v":-0.15},{"k":"o","t":278.8,"v":0.1},{"k":"o","t":283.7,"v":-0.09},{"k":"o","t":288.6,"v":-0.02},{"k":"o","t":293.5,"v":0.1},{"k":"o","t":296.7,"v":-0.09},{"k":"o","t":300,"v":0.04},
{"k":"s","t":1,"v":0.1},{"k":"s","t":9.2,"v":0.14},{"k":"s","t":23.9,"v":0.06},{"k":"s","t":46.7,"v":0.01},{"k":"s","t":69.6,"v":-0.02},{"k":"s","t":76.1,"v":-0.15},{"k":"s","t":79.4,"v":-0.58},{"k":"s","t":82,"v":-1.08},{"k":"s","t":84.3,"v":-1.43},{"k":"s","t":86.6,"v":-1.2},{"k":"s","t":89.2,"v":-0.09},{"k":"s","t":91.8,"v":1.4},{"k":"s","t":94.1,"v":2.52},{"k":"s","t":95.8,"v":2.77},{"k":"s","t":97.4,"v":2.52},{"k":"s","t":99.7,"v":1.28},{"k":"s","t":102.3,"v":-0.34},{"k":"s","t":104.9,"v":-1.45},{"k":"s","t":107.2,"v":-1.95},{"k":"s","t":108.8,"v":-1.83},{"k":"s","t":111.1,"v":-0.83},{"k":"s","t":113.7,"v":0.66},{"k":"s","t":116.3,"v":2.02},{"k":"s","t":118.6,"v":2.65},{"k":"s","t":120.9,"v":2.77},{"k":"s","t":123.5,"v":2.4},{"k":"s","t":126.1,"v":1.28},{"k":"s","t":129.1,"v":-0.09},{"k":"s","t":131.7,"v":-1.08},{"k":"s","t":134,"v":-1.64},{"k":"s","t":136.6,"v":-1.58},{"k":"s","t":139.9,"v":-1.08},{"k":"s","t":143.1,"v":-0.58},{"k":"s","t":146.4,"v":-0.21},{"k":"s","t":150.7,"v":-0.02},{"k":"s","t":157.8,"v":0.04},{"k":"s","t":177.5,"v":0.01},{"k":"s","t":210.1,"v":-0.01},{"k":"s","t":242.8,"v":0.01},{"k":"s","t":275.5,"v":0.04},{"k":"s","t":300,"v":0.06}
],
"vn_gh":[
{"k":"o","t":0.7,"v":0.16},{"k":"o","t":2.9,"v":0.2},{"k":"o","t":5.6,"v":0.09},{"k":"o","t":8.8,"v":0.13},{"k":"o","t":11.4,"v":0.02},{"k":"o","t":13.7,"v":-0.12},{"k":"o","t":17,"v":-0.23},{"k":"o","t":20.3,"v":-0.41},{"k":"o","t":23.6,"v":-0.48},{"k":"o","t":26.8,"v":-0.69},{"k":"o","t":30.1,"v":-0.97},{"k":"o","t":33.4,"v":-1.22},{"k":"o","t":36.6,"v":-1.36},{"k":"o","t":39.9,"v":-1.4},{"k":"o","t":43.2,"v":-1.47},{"k":"o","t":45.5,"v":-1.26},{"k":"o","t":48.1,"v":-1.15},{"k":"o","t":51.4,"v":-0.9},{"k":"o","t":54.6,"v":-0.76},{"k":"o","t":57.9,"v":-0.58},{"k":"o","t":61.2,"v":-0.41},{"k":"o","t":64.4,"v":-0.19},{"k":"o","t":67.7,"v":-0.09},{"k":"o","t":71,"v":-0.12},{"k":"o","t":74.3,"v":-0.16},{"k":"o","t":77.5,"v":0.06},{"k":"o","t":80.8,"v":0.31},{"k":"o","t":84.1,"v":0.59},{"k":"o","t":86.4,"v":0.91},{"k":"o","t":88,"v":1.12},{"k":"o","t":89.6,"v":0.8},{"k":"o","t":91.3,"v":0.45},{"k":"o","t":92.9,"v":-0.12},{"k":"o","t":94.5,"v":-0.62},{"k":"o","t":96.2,"v":-0.9},{"k":"o","t":97.8,"v":-1.04},{"k":"o","t":99.4,"v":-0.76},{"k":"o","t":101.1,"v":-0.12},{"k":"o","t":103,"v":0.23},{"k":"o","t":104.7,"v":0.45},{"k":"o","t":106.3,"v":0.77},{"k":"o","t":107.9,"v":0.66},{"k":"o","t":109.6,"v":0.95},{"k":"o","t":111.2,"v":0.59},{"k":"o","t":112.9,"v":0.73},{"k":"o","t":114.5,"v":0.38},{"k":"o","t":116.1,"v":0.09},{"k":"o","t":117.8,"v":-0.12},{"k":"o","t":119.4,"v":0.8},{"k":"o","t":120.4,"v":1.83},{"k":"o","t":121.4,"v":0.45},{"k":"o","t":122.7,"v":-0.26},{"k":"o","t":124.3,"v":-0.76},{"k":"o","t":125.9,"v":-0.48},{"k":"o","t":127.6,"v":-0.12},{"k":"o","t":129.2,"v":-0.41},{"k":"o","t":130.8,"v":-0.12},{"k":"o","t":133.1,"v":0.23},{"k":"o","t":135.4,"v":0.38},{"k":"o","t":138,"v":0.09},{"k":"o","t":140.3,"v":-0.05},{"k":"o","t":142.3,"v":0.13},{"k":"o","t":144.6,"v":-0.12},{"k":"o","t":146.9,"v":-0.05},{"k":"o","t":149.5,"v":-0.26},{"k":"o","t":152.1,"v":-0.12},{"k":"o","t":154.4,"v":-0.33},{"k":"o","t":155.4,"v":-0.8},{"k":"o","t":156.7,"v":-0.33},{"k":"o","t":159.3,"v":0.09},{"k":"o","t":161.9,"v":-0.26},{"k":"o","t":165.2,"v":-0.33},{"k":"o","t":169.1,"v":-0.41},{"k":"o","t":173,"v":-0.44},{"k":"o","t":176.3,"v":-0.51},{"k":"o","t":179.6,"v":-0.62},{"k":"o","t":182.9,"v":-0.76},{"k":"o","t":186.1,"v":-1.04},{"k":"o","t":188.7,"v":-1.26},{"k":"o","t":191.4,"v":-1.61},{"k":"o","t":193.7,"v":-1.47},{"k":"o","t":196.9,"v":-1.33},{"k":"o","t":200.2,"v":-1.26},{"k":"o","t":203.5,"v":-1.19},{"k":"o","t":206.7,"v":-1.08},{"k":"o","t":210,"v":-1.01},{"k":"o","t":213.3,"v":-0.94},{"k":"o","t":216.6,"v":-0.9},{"k":"o","t":219.8,"v":-0.83},{"k":"o","t":223.1,"v":-0.76},{"k":"o","t":226.4,"v":-0.58},{"k":"o","t":229.6,"v":-0.41},{"k":"o","t":231.9,"v":-0.55},{"k":"o","t":234.5,"v":-0.76},{"k":"o","t":237.8,"v":-0.83},{"k":"o","t":241.1,"v":-0.97},{"k":"o","t":245,"v":-1.12},{"k":"o","t":249.3,"v":-1.29},{"k":"o","t":253.5,"v":-1.44},{"k":"o","t":256.8,"v":-1.47},{"k":"o","t":260.1,"v":-1.51},{"k":"o","t":263.3,"v":-1.33},{"k":"o","t":266.6,"v":-1.15},{"k":"o","t":270.5,"v":-0.9},{"k":"o","t":273.8,"v":-0.62},{"k":"o","t":277.1,"v":-0.55},{"k":"o","t":280.3,"v":-0.44},{"k":"o","t":283.6,"v":-0.37},{"k":"o","t":286.2,"v":-0.19},{"k":"o","t":288.8,"v":-0.05},{"k":"o","t":291.8,"v":0.13},{"k":"o","t":295.1,"v":0.23},{"k":"o","t":297.7,"v":0.2},{"k":"o","t":299.3,"v":0.2},
{"k":"s","t":0.7,"v":-0.01},{"k":"s","t":5.6,"v":-0.06},{"k":"s","t":15.4,"v":-0.09},{"k":"s","t":31.7,"v":-0.05},{"k":"s","t":51.4,"v":-0.01},{"k":"s","t":71,"v":0.01},{"k":"s","t":77.5,"v":0.09},{"k":"s","t":81.5,"v":0.52},{"k":"s","t":84.7,"v":0.84},{"k":"s","t":87.3,"v":0.87},{"k":"s","t":89.6,"v":0.66},{"k":"s","t":92.2,"v":-0.05},{"k":"s","t":94.9,"v":-0.76},{"k":"s","t":97.2,"v":-0.97},{"k":"s","t":99.4,"v":-0.69},{"k":"s","t":102.1,"v":-0.05},{"k":"s","t":104.7,"v":0.38},{"k":"s","t":107,"v":0.48},{"k":"s","t":109.6,"v":0.31},{"k":"s","t":112.9,"v":-0.12},{"k":"s","t":116.1,"v":-0.62},{"k":"s","t":119.4,"v":-0.9},{"k":"s","t":122.7,"v":-1.01},{"k":"s","t":125.6,"v":-0.83},{"k":"s","t":128.9,"v":-0.26},{"k":"s","t":132.5,"v":0.23},{"k":"s","t":135.8,"v":0.52},{"k":"s","t":139,"v":0.66},{"k":"s","t":142.3,"v":0.72},{"k":"s","t":145.6,"v":0.66},{"k":"s","t":149.5,"v":0.48},{"k":"s","t":153.4,"v":0.27},{"k":"s","t":157.7,"v":0.11},{"k":"s","t":162.6,"v":0.06},{"k":"s","t":175.7,"v":0.04},{"k":"s","t":201.8,"v":0.02},{"k":"s","t":234.5,"v":0},{"k":"s","t":267.3,"v":-0.02},{"k":"s","t":299.3,"v":-0.05}
]
},
"concat":[
{"width":306,"height":187,"title":{"text":"MBFR"},
 "layer":[
  {"data":{"name":"d_fr"},"mark":{"type":"line","strokeWidth":2.5,"color":"black","clip":true},
   "encoding":{"x":{"field":"t","type":"quantitative","scale":{"domain":[0,300],"nice":false,"zero":false},"axis":{"orient":"bottom","values":[0,20,40,60,80,100,120,140,160,180,200,220,240,260,280,300],"labels":false,"tickSize":3,"title":null}},
    "y":{"field":"v","type":"quantitative","scale":{"domain":[-3,0.4],"nice":false,"zero":false},"axis":{"orient":"left","values":[-3,-2,-1,0,0.4],"labelExpr":"datum.value == 0.4 ? '0.4' : datum.value == 0 ? '0' : datum.value == -3 ? '-3' : ''","labelFontSize":12,"tickSize":4,"minExtent":30,"titlePadding":3,"title":"Displacement [mm]"}},
    "detail":{"field":"k"}}},
  {"data":{"values":[{"t":260,"v":0.157,"txt":"Vertical"},{"t":270,"v":-1.664,"txt":"East"},{"t":268,"v":-2.684,"txt":"North"}]},
   "mark":{"type":"text","clip":true},
   "encoding":{"x":{"field":"t","type":"quantitative","axis":{"orient":"top","values":[0,20,40,60,80,100,120,140,160,180,200,220,240,260,280,300],"labels":false,"tickSize":3,"title":null}},
    "y":{"field":"v","type":"quantitative","axis":{"orient":"right","values":[-3,-2,-1,0,0.4],"labels":false,"tickSize":4,"title":null}},
    "text":{"field":"txt"}}}
 ],
 "resolve":{"axis":{"x":"independent","y":"independent"}}},
{"width":306,"height":187,"title":{"text":"MBRY"},
 "layer":[
  {"data":{"name":"d_ry"},"mark":{"type":"line","strokeWidth":2.5,"color":"black","clip":true},
   "encoding":{"x":{"field":"t","type":"quantitative","scale":{"domain":[0,300],"nice":false,"zero":false},"axis":{"orient":"bottom","values":[0,20,40,60,80,100,120,140,160,180,200,220,240,260,280,300],"labels":false,"tickSize":3,"title":null}},
    "y":{"field":"v","type":"quantitative","scale":{"domain":[-0.45,0.3],"nice":false,"zero":false},"axis":{"orient":"left","values":[-0.45,0,0.3],"labelExpr":"datum.value == 0.3 ? '0.30' : datum.value == 0 ? '0' : datum.value == -0.45 ? '-0.45' : ''","labelFontSize":12,"tickSize":4,"minExtent":32,"title":null}},
    "detail":{"field":"k"}}},
  {"data":{"values":[{"t":269.6,"v":0.233,"txt":"Vertical"},{"t":257.8,"v":-0.303,"txt":"North"},{"t":258.8,"v":-0.422,"txt":"East"}]},
   "mark":{"type":"text","clip":true},
   "encoding":{"x":{"field":"t","type":"quantitative","axis":{"orient":"top","values":[0,20,40,60,80,100,120,140,160,180,200,220,240,260,280,300],"labels":false,"tickSize":3,"title":null}},
    "y":{"field":"v","type":"quantitative","axis":{"orient":"right","values":[-0.45,0,0.3],"labels":false,"tickSize":4,"title":null}},
    "text":{"field":"txt"}}}
 ],
 "resolve":{"axis":{"x":"independent","y":"independent"}}},
{"width":306,"height":187,"title":{"text":"MBGH"},
 "layer":[
  {"data":{"name":"d_gh"},"mark":{"type":"line","strokeWidth":2.5,"color":"black","clip":true},
   "encoding":{"x":{"field":"t","type":"quantitative","scale":{"domain":[0,300],"nice":false,"zero":false},"axis":{"orient":"bottom","values":[0,20,40,60,80,100,120,140,160,180,200,220,240,260,280,300],"labels":false,"tickSize":3,"title":null}},
    "y":{"field":"v","type":"quantitative","scale":{"domain":[-1,0.3],"nice":false,"zero":false},"axis":{"orient":"left","values":[-1,-0.5,0,0.3],"labelExpr":"datum.value == 0.3 ? '0.3' : datum.value == 0 ? '0' : datum.value == -1 ? '-1' : ''","labelFontSize":12,"tickSize":4,"minExtent":32,"title":null}},
    "detail":{"field":"k"}}},
  {"data":{"values":[{"t":266.7,"v":0.246,"txt":"North"},{"t":265.7,"v":0.035,"txt":"Vertical"},{"t":268.6,"v":-0.82,"txt":"East"}]},
   "mark":{"type":"text","clip":true},
   "encoding":{"x":{"field":"t","type":"quantitative","axis":{"orient":"top","values":[0,20,40,60,80,100,120,140,160,180,200,220,240,260,280,300],"labels":false,"tickSize":3,"title":null}},
    "y":{"field":"v","type":"quantitative","axis":{"orient":"right","values":[-1,-0.5,0,0.3],"labels":false,"tickSize":4,"title":"a)","titleAngle":0,"titleAlign":"left","titleBaseline":"middle","titleFontSize":18,"titlePadding":6}},
    "text":{"field":"txt"}}}
 ],
 "resolve":{"axis":{"x":"independent","y":"independent"}}},
{"width":306,"height":187,
 "layer":[
  {"data":{"name":"vz_fr"},"mark":{"type":"line","strokeWidth":2,"clip":true},
   "encoding":{"x":{"field":"t","type":"quantitative","scale":{"domain":[0,300],"nice":false,"zero":false},"axis":{"orient":"bottom","values":[0,20,40,60,80,100,120,140,160,180,200,220,240,260,280,300],"labels":false,"tickSize":3,"title":null}},
    "y":{"field":"v","type":"quantitative","scale":{"domain":[-1.2,0.6],"nice":false,"zero":false},"axis":{"orient":"left","values":[-1,-0.75,-0.5,-0.25,0,0.25,0.5],"labelExpr":"datum.value == 0.5 ? '0.5' : datum.value == 0 ? '0' : datum.value == -1 ? '-1' : ''","tickSize":4,"minExtent":30,"titlePadding":3,"title":"Velocity [10³ counts]"}},
    "color":{"field":"k","type":"nominal","scale":{"domain":["o","s"],"range":["#c0c0c0","#d7262b"]},"legend":null},
    "strokeDash":{"field":"k","type":"nominal","scale":{"domain":["o","s"],"range":[[1,0],[5,3]]},"legend":null}}},
  {"data":{"values":[{"t":257.4,"v":0.32,"txt":"Vertical"}]},
   "mark":{"type":"text"},
   "encoding":{"x":{"field":"t","type":"quantitative","axis":{"orient":"top","values":[0,20,40,60,80,100,120,140,160,180,200,220,240,260,280,300],"labels":false,"tickSize":3,"title":null}},
    "y":{"field":"v","type":"quantitative","axis":{"orient":"right","values":[-1,-0.75,-0.5,-0.25,0,0.25,0.5],"labels":false,"tickSize":4,"title":null}},
    "text":{"field":"txt"}}}
 ],
 "resolve":{"axis":{"x":"independent","y":"independent"}}},
{"width":306,"height":187,
 "layer":[
  {"data":{"name":"vz_ry"},"mark":{"type":"line","strokeWidth":2,"clip":true},
   "encoding":{"x":{"field":"t","type":"quantitative","scale":{"domain":[0,300],"nice":false,"zero":false},"axis":{"orient":"bottom","values":[0,20,40,60,80,100,120,140,160,180,200,220,240,260,280,300],"labels":false,"tickSize":3,"title":null}},
    "y":{"field":"v","type":"quantitative","scale":{"domain":[-2,1.8],"nice":false,"zero":false},"axis":{"orient":"left","values":[-2,-1.5,-1,-0.5,0,0.5,1,1.5],"labelExpr":"datum.value == 1.5 ? '1.5' : datum.value == 0 ? '0' : datum.value == -2 ? '-2' : ''","tickSize":4,"minExtent":32,"title":null}},
    "color":{"field":"k","type":"nominal","scale":{"domain":["o","s"],"range":["#c0c0c0","#d7262b"]},"legend":null},
    "strokeDash":{"field":"k","type":"nominal","scale":{"domain":["o","s"],"range":[[1,0],[5,3]]},"legend":null}}},
  {"data":{"values":[{"t":260.8,"v":1.22,"txt":"Vertical"}]},
   "mark":{"type":"text"},
   "encoding":{"x":{"field":"t","type":"quantitative","axis":{"orient":"top","values":[0,20,40,60,80,100,120,140,160,180,200,220,240,260,280,300],"labels":false,"tickSize":3,"title":null}},
    "y":{"field":"v","type":"quantitative","axis":{"orient":"right","values":[-2,-1.5,-1,-0.5,0,0.5,1,1.5],"labels":false,"tickSize":4,"title":null}},
    "text":{"field":"txt"}}}
 ],
 "resolve":{"axis":{"x":"independent","y":"independent"}}},
{"width":306,"height":187,
 "layer":[
  {"data":{"name":"vz_gh"},"mark":{"type":"line","strokeWidth":2,"clip":true},
   "encoding":{"x":{"field":"t","type":"quantitative","scale":{"domain":[0,300],"nice":false,"zero":false},"axis":{"orient":"bottom","values":[0,20,40,60,80,100,120,140,160,180,200,220,240,260,280,300],"labels":false,"tickSize":3,"title":null}},
    "y":{"field":"v","type":"quantitative","scale":{"domain":[-1.55,1.2],"nice":false,"zero":false},"axis":{"orient":"left","values":[-1.5,-1,-0.5,0,0.5,1],"labelExpr":"datum.value == 1 ? '1' : datum.value == 0 ? '0' : datum.value == -1.5 ? '-1.5' : ''","tickSize":4,"minExtent":32,"title":null}},
    "color":{"field":"k","type":"nominal","scale":{"domain":["o","s"],"range":["#c0c0c0","#d7262b"]},"legend":null},
    "strokeDash":{"field":"k","type":"nominal","scale":{"domain":["o","s"],"range":[[1,0],[5,3]]},"legend":null}}},
  {"data":{"values":[{"t":264,"v":0.81,"txt":"Vertical"}]},
   "mark":{"type":"text"},
   "encoding":{"x":{"field":"t","type":"quantitative","axis":{"orient":"top","values":[0,20,40,60,80,100,120,140,160,180,200,220,240,260,280,300],"labels":false,"tickSize":3,"title":null}},
    "y":{"field":"v","type":"quantitative","axis":{"orient":"right","values":[-1.5,-1,-0.5,0,0.5,1],"labels":false,"tickSize":4,"title":"b)","titleAngle":0,"titleAlign":"left","titleBaseline":"middle","titleFontSize":18,"titlePadding":6}},
    "text":{"field":"txt"}}}
 ],
 "resolve":{"axis":{"x":"independent","y":"independent"}}},
{"width":306,"height":187,
 "layer":[
  {"data":{"name":"ve_fr"},"mark":{"type":"line","strokeWidth":2,"clip":true},
   "encoding":{"x":{"field":"t","type":"quantitative","scale":{"domain":[0,300],"nice":false,"zero":false},"axis":{"orient":"bottom","values":[0,20,40,60,80,100,120,140,160,180,200,220,240,260,280,300],"labels":false,"tickSize":3,"title":null}},
    "y":{"field":"v","type":"quantitative","scale":{"domain":[-1.5,2.5],"nice":false,"zero":false},"axis":{"orient":"left","values":[-1.5,-1,-0.5,0,0.5,1,1.5,2,2.5],"labelExpr":"datum.value == 2.5 ? '2.5' : datum.value == 0 ? '0' : datum.value == -1.5 ? '-1.5' : ''","tickSize":4,"minExtent":30,"titlePadding":3,"title":"Velocity [10³ counts]"}},
    "color":{"field":"k","type":"nominal","scale":{"domain":["o","s"],"range":["#c0c0c0","#d7262b"]},"legend":null},
    "strokeDash":{"field":"k","type":"nominal","scale":{"domain":["o","s"],"range":[[1,0],[5,3]]},"legend":null}}},
  {"data":{"values":[{"t":258.4,"v":2.04,"txt":"East"}]},
   "mark":{"type":"text"},
   "encoding":{"x":{"field":"t","type":"quantitative","axis":{"orient":"top","values":[0,20,40,60,80,100,120,140,160,180,200,220,240,260,280,300],"labels":false,"tickSize":3,"title":null}},
    "y":{"field":"v","type":"quantitative","axis":{"orient":"right","values":[-1.5,-1,-0.5,0,0.5,1,1.5,2,2.5],"labels":false,"tickSize":4,"title":null}},
    "text":{"field":"txt"}}}
 ],
 "resolve":{"axis":{"x":"independent","y":"independent"}}},
{"width":306,"height":187,
 "layer":[
  {"data":{"name":"ve_ry"},"mark":{"type":"line","strokeWidth":2,"clip":true},
   "encoding":{"x":{"field":"t","type":"quantitative","scale":{"domain":[0,300],"nice":false,"zero":false},"axis":{"orient":"bottom","values":[0,20,40,60,80,100,120,140,160,180,200,220,240,260,280,300],"labels":false,"tickSize":3,"title":null}},
    "y":{"field":"v","type":"quantitative","scale":{"domain":[-3,4],"nice":false,"zero":false},"axis":{"orient":"left","values":[-3,-2,-1,0,1,2,3,4],"labelExpr":"datum.value == 4 ? '4' : datum.value == 0 ? '0' : datum.value == -3 ? '-3' : ''","tickSize":4,"minExtent":32,"title":null}},
    "color":{"field":"k","type":"nominal","scale":{"domain":["o","s"],"range":["#c0c0c0","#d7262b"]},"legend":null},
    "strokeDash":{"field":"k","type":"nominal","scale":{"domain":["o","s"],"range":[[1,0],[5,3]]},"legend":null}}},
  {"data":{"values":[{"t":260.8,"v":3.21,"txt":"East"}]},
   "mark":{"type":"text"},
   "encoding":{"x":{"field":"t","type":"quantitative","axis":{"orient":"top","values":[0,20,40,60,80,100,120,140,160,180,200,220,240,260,280,300],"labels":false,"tickSize":3,"title":null}},
    "y":{"field":"v","type":"quantitative","axis":{"orient":"right","values":[-3,-2,-1,0,1,2,3,4],"labels":false,"tickSize":4,"title":null}},
    "text":{"field":"txt"}}}
 ],
 "resolve":{"axis":{"x":"independent","y":"independent"}}},
{"width":306,"height":187,
 "layer":[
  {"data":{"name":"ve_gh"},"mark":{"type":"line","strokeWidth":2,"clip":true},
   "encoding":{"x":{"field":"t","type":"quantitative","scale":{"domain":[0,300],"nice":false,"zero":false},"axis":{"orient":"bottom","values":[0,20,40,60,80,100,120,140,160,180,200,220,240,260,280,300],"labels":false,"tickSize":3,"title":null}},
    "y":{"field":"v","type":"quantitative","scale":{"domain":[-3,4],"nice":false,"zero":false},"axis":{"orient":"left","values":[-3,-2,0,2,4],"labelExpr":"datum.value == 4 ? '4' : datum.value == 0 ? '0' : datum.value == -3 ? '-3' : ''","tickSize":4,"minExtent":32,"title":null}},
    "color":{"field":"k","type":"nominal","scale":{"domain":["o","s"],"range":["#c0c0c0","#d7262b"]},"legend":null},
    "strokeDash":{"field":"k","type":"nominal","scale":{"domain":["o","s"],"range":[[1,0],[5,3]]},"legend":null}}},
  {"data":{"values":[{"t":264,"v":3.21,"txt":"East"}]},
   "mark":{"type":"text"},
   "encoding":{"x":{"field":"t","type":"quantitative","axis":{"orient":"top","values":[0,20,40,60,80,100,120,140,160,180,200,220,240,260,280,300],"labels":false,"tickSize":3,"title":null}},
    "y":{"field":"v","type":"quantitative","axis":{"orient":"right","values":[-3,-2,0,2,4],"labels":false,"tickSize":4,"title":"c)","titleAngle":0,"titleAlign":"left","titleBaseline":"middle","titleFontSize":18,"titlePadding":6}},
    "text":{"field":"txt"}}}
 ],
 "resolve":{"axis":{"x":"independent","y":"independent"}}},
{"width":306,"height":187,
 "layer":[
  {"data":{"name":"vn_fr"},"mark":{"type":"line","strokeWidth":2,"clip":true},
   "encoding":{"x":{"field":"t","type":"quantitative","scale":{"domain":[0,300],"nice":false,"zero":false},"axis":{"orient":"bottom","values":[0,20,40,60,80,100,120,140,160,180,200,220,240,260,280,300],"tickSize":3,"labelExpr":"datum.value % 60 == 0 ? '07:' + (18 + datum.value / 60) : ''","labelFontSize":14,"labelPadding":4,"title":"TIME 23/03/2012 UTC","titleFontSize":16,"titlePadding":2}},
    "y":{"field":"v","type":"quantitative","scale":{"domain":[-4,7],"nice":false,"zero":false},"axis":{"orient":"left","values":[-4,-3,-2,-1,0,1,2,3,4,5,6,7],"labelExpr":"datum.value == 7 ? '7' : datum.value == 0 ? '0' : datum.value == -4 ? '-4' : ''","tickSize":4,"minExtent":30,"titlePadding":3,"title":"Velocity [10³ counts]"}},
    "color":{"field":"k","type":"nominal","scale":{"domain":["o","s"],"range":["#c0c0c0","#d7262b"]},"legend":null},
    "strokeDash":{"field":"k","type":"nominal","scale":{"domain":["o","s"],"range":[[1,0],[5,3]]},"legend":null}}},
  {"data":{"values":[{"t":258,"v":5.7,"txt":"North"}]},
   "mark":{"type":"text"},
   "encoding":{"x":{"field":"t","type":"quantitative","axis":{"orient":"top","values":[0,20,40,60,80,100,120,140,160,180,200,220,240,260,280,300],"labels":false,"tickSize":3,"title":null}},
    "y":{"field":"v","type":"quantitative","axis":{"orient":"right","values":[-4,-3,-2,-1,0,1,2,3,4,5,6,7],"labels":false,"tickSize":4,"title":null}},
    "text":{"field":"txt"}}}
 ],
 "resolve":{"axis":{"x":"independent","y":"independent"}}},
{"width":306,"height":187,
 "layer":[
  {"data":{"name":"vn_ry"},"mark":{"type":"line","strokeWidth":2,"clip":true},
   "encoding":{"x":{"field":"t","type":"quantitative","scale":{"domain":[0,300],"nice":false,"zero":false},"axis":{"orient":"bottom","values":[0,20,40,60,80,100,120,140,160,180,200,220,240,260,280,300],"tickSize":3,"labelExpr":"datum.value % 60 == 0 ? '07:' + (18 + datum.value / 60) : ''","labelFontSize":14,"labelPadding":4,"title":"TIME 23/03/2012 UTC","titleFontSize":16,"titlePadding":2}},
    "y":{"field":"v","type":"quantitative","scale":{"domain":[-3,4],"nice":false,"zero":false},"axis":{"orient":"left","values":[-3,-2,-1,0,1,2,3,4],"labelExpr":"datum.value == 4 ? '4' : datum.value == 0 ? '0' : datum.value == -3 ? '-3' : ''","tickSize":4,"minExtent":32,"title":null}},
    "color":{"field":"k","type":"nominal","scale":{"domain":["o","s"],"range":["#c0c0c0","#d7262b"]},"legend":null},
    "strokeDash":{"field":"k","type":"nominal","scale":{"domain":["o","s"],"range":[[1,0],[5,3]]},"legend":null}}},
  {"data":{"values":[{"t":260.8,"v":3.17,"txt":"North"}]},
   "mark":{"type":"text"},
   "encoding":{"x":{"field":"t","type":"quantitative","axis":{"orient":"top","values":[0,20,40,60,80,100,120,140,160,180,200,220,240,260,280,300],"labels":false,"tickSize":3,"title":null}},
    "y":{"field":"v","type":"quantitative","axis":{"orient":"right","values":[-3,-2,-1,0,1,2,3,4],"labels":false,"tickSize":4,"title":null}},
    "text":{"field":"txt"}}}
 ],
 "resolve":{"axis":{"x":"independent","y":"independent"}}},
{"width":306,"height":187,
 "layer":[
  {"data":{"name":"vn_gh"},"mark":{"type":"line","strokeWidth":2,"clip":true},
   "encoding":{"x":{"field":"t","type":"quantitative","scale":{"domain":[0,300],"nice":false,"zero":false},"axis":{"orient":"bottom","values":[0,20,40,60,80,100,120,140,160,180,200,220,240,260,280,300],"tickSize":3,"labelExpr":"datum.value % 60 == 0 ? '07:' + (18 + datum.value / 60) : ''","labelFontSize":14,"labelPadding":4,"title":"TIME 23/03/2012 UTC","titleFontSize":16,"titlePadding":2}},
    "y":{"field":"v","type":"quantitative","scale":{"domain":[-2,2],"nice":false,"zero":false},"axis":{"orient":"left","values":[-2,-1,0,1,2],"labelExpr":"datum.value == 2 ? '2' : datum.value == 0 ? '0' : datum.value == -2 ? '-2' : ''","tickSize":4,"minExtent":32,"title":null}},
    "color":{"field":"k","type":"nominal","scale":{"domain":["o","s"],"range":["#c0c0c0","#d7262b"]},"legend":null},
    "strokeDash":{"field":"k","type":"nominal","scale":{"domain":["o","s"],"range":[[1,0],[5,3]]},"legend":null}}},
  {"data":{"values":[{"t":264,"v":1.53,"txt":"North"}]},
   "mark":{"type":"text"},
   "encoding":{"x":{"field":"t","type":"quantitative","axis":{"orient":"top","values":[0,20,40,60,80,100,120,140,160,180,200,220,240,260,280,300],"labels":false,"tickSize":3,"title":null}},
    "y":{"field":"v","type":"quantitative","axis":{"orient":"right","values":[-2,-1,0,1,2],"labels":false,"tickSize":4,"title":"d)","titleAngle":0,"titleAlign":"left","titleBaseline":"middle","titleFontSize":18,"titlePadding":6}},
    "text":{"field":"txt"}}}
 ],
 "resolve":{"axis":{"x":"independent","y":"independent"}}}
],
"columns":3,
"align":"each",
"bounds":"flush",
"spacing":{"row":6,"column":52}
}
